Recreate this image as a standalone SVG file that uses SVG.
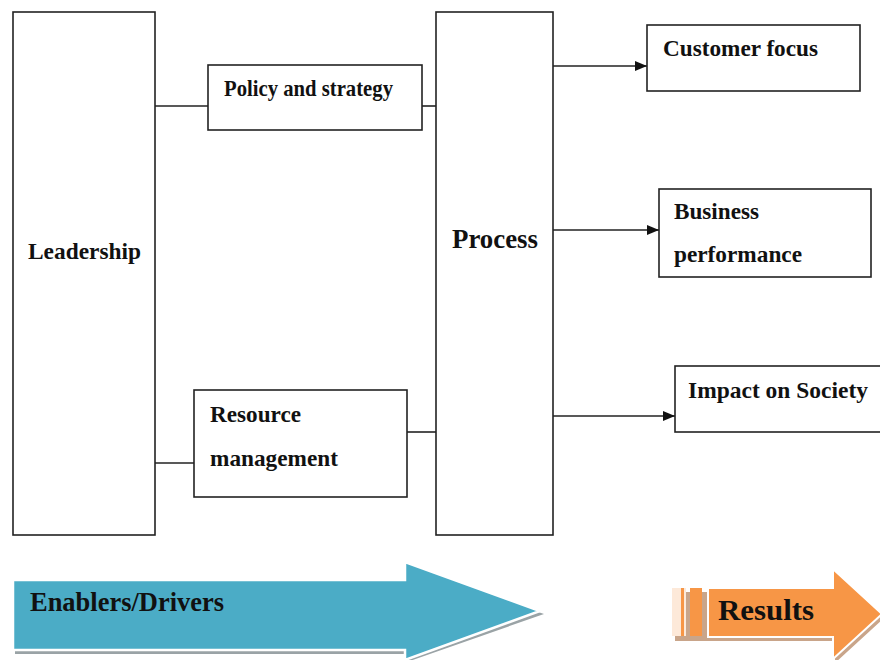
<svg xmlns="http://www.w3.org/2000/svg" width="880" height="660" viewBox="0 0 880 660">
<style>
.box{fill:#fff;stroke:#222;stroke-width:1.6}
.t{font-family:"Liberation Serif","Times New Roman",serif;font-weight:bold;font-size:23px;fill:#111}
.ln{stroke:#222;stroke-width:1.6;fill:none}
</style>
<defs>
<marker id="ah" viewBox="0 0 12 10" refX="12" refY="5" markerWidth="12" markerHeight="10" markerUnits="userSpaceOnUse" orient="auto">
<path d="M0,0 L12,5 L0,10 Z" fill="#111"/>
</marker>
</defs>
<rect width="880" height="660" fill="#fff"/>
<g id="connectors">
<line class="ln" x1="155" y1="106" x2="208" y2="106"/>
<line class="ln" x1="422" y1="106" x2="436" y2="106"/>
<line class="ln" x1="155" y1="463" x2="194" y2="463"/>
<line class="ln" x1="407" y1="432" x2="436" y2="432"/>
<line class="ln" x1="553" y1="66" x2="647" y2="66" marker-end="url(#ah)"/>
<line class="ln" x1="553" y1="230" x2="659" y2="230" marker-end="url(#ah)"/>
<line class="ln" x1="553" y1="416" x2="675" y2="416" marker-end="url(#ah)"/>
</g>
<g id="leadership">
<rect class="box" x="13" y="12" width="142" height="523"/>
<text class="t" x="28" y="259" textLength="113" lengthAdjust="spacingAndGlyphs">Leadership</text>
</g>
<g id="policy">
<rect class="box" x="208" y="65" width="214" height="65"/>
<text class="t" x="224" y="96" textLength="169" lengthAdjust="spacingAndGlyphs">Policy and strategy</text>
</g>
<g id="resource">
<rect class="box" x="194" y="390" width="213" height="107"/>
<text class="t" x="210" y="422" textLength="91" lengthAdjust="spacingAndGlyphs">Resource</text>
<text class="t" x="210" y="466" textLength="128" lengthAdjust="spacingAndGlyphs">management</text>
</g>
<g id="process">
<rect class="box" x="436" y="12" width="117" height="523"/>
<text class="t" x="452" y="248" style="font-size:28px" textLength="86" lengthAdjust="spacingAndGlyphs">Process</text>
</g>
<g id="customer">
<rect class="box" x="647" y="25" width="213" height="66"/>
<text class="t" x="663" y="56" textLength="155" lengthAdjust="spacingAndGlyphs">Customer focus</text>
</g>
<g id="business">
<rect class="box" x="659" y="189" width="212" height="88"/>
<text class="t" x="674" y="219" textLength="85" lengthAdjust="spacingAndGlyphs">Business</text>
<text class="t" x="674" y="262" textLength="128" lengthAdjust="spacingAndGlyphs">performance</text>
</g>
<g id="impact">
<rect class="box" x="675" y="366" width="212" height="66"/>
<text class="t" x="688" y="398" textLength="180" lengthAdjust="spacingAndGlyphs">Impact on Society</text>
</g>
<g id="enablers">
<path d="M15,584 L407,584 L407,566 L544,614 L407,662 L407,654 L15,654 Z" fill="#9aa3a6"/>
<path d="M13,580 L405,580 L405,562 L540,611 L405,660 L405,650 L13,650 Z" fill="#4bacc6" stroke="#fff" stroke-width="2.5"/>
<text class="t" x="30" y="611" style="font-size:27px" textLength="194" lengthAdjust="spacingAndGlyphs">Enablers/Drivers</text>
</g>
<g id="results">
<path d="M675,592 L835,592 L835,573 L884,618 L835,663 L835,641 L675,641 Z" fill="#c9a58a"/>
<rect x="672" y="588" width="14" height="48" fill="#fde9d9"/>
<rect x="681" y="588" width="3" height="48" fill="#f79646"/>
<rect x="690" y="588" width="12" height="48" fill="#f79646"/>
<path d="M708,588 L833,588 L833,569 L882,614 L833,659 L833,637 L708,637 Z" fill="#f79646" stroke="#fff" stroke-width="2"/>
<text class="t" x="718" y="620" style="font-size:30px" textLength="96" lengthAdjust="spacingAndGlyphs">Results</text>
</g>
</svg>
